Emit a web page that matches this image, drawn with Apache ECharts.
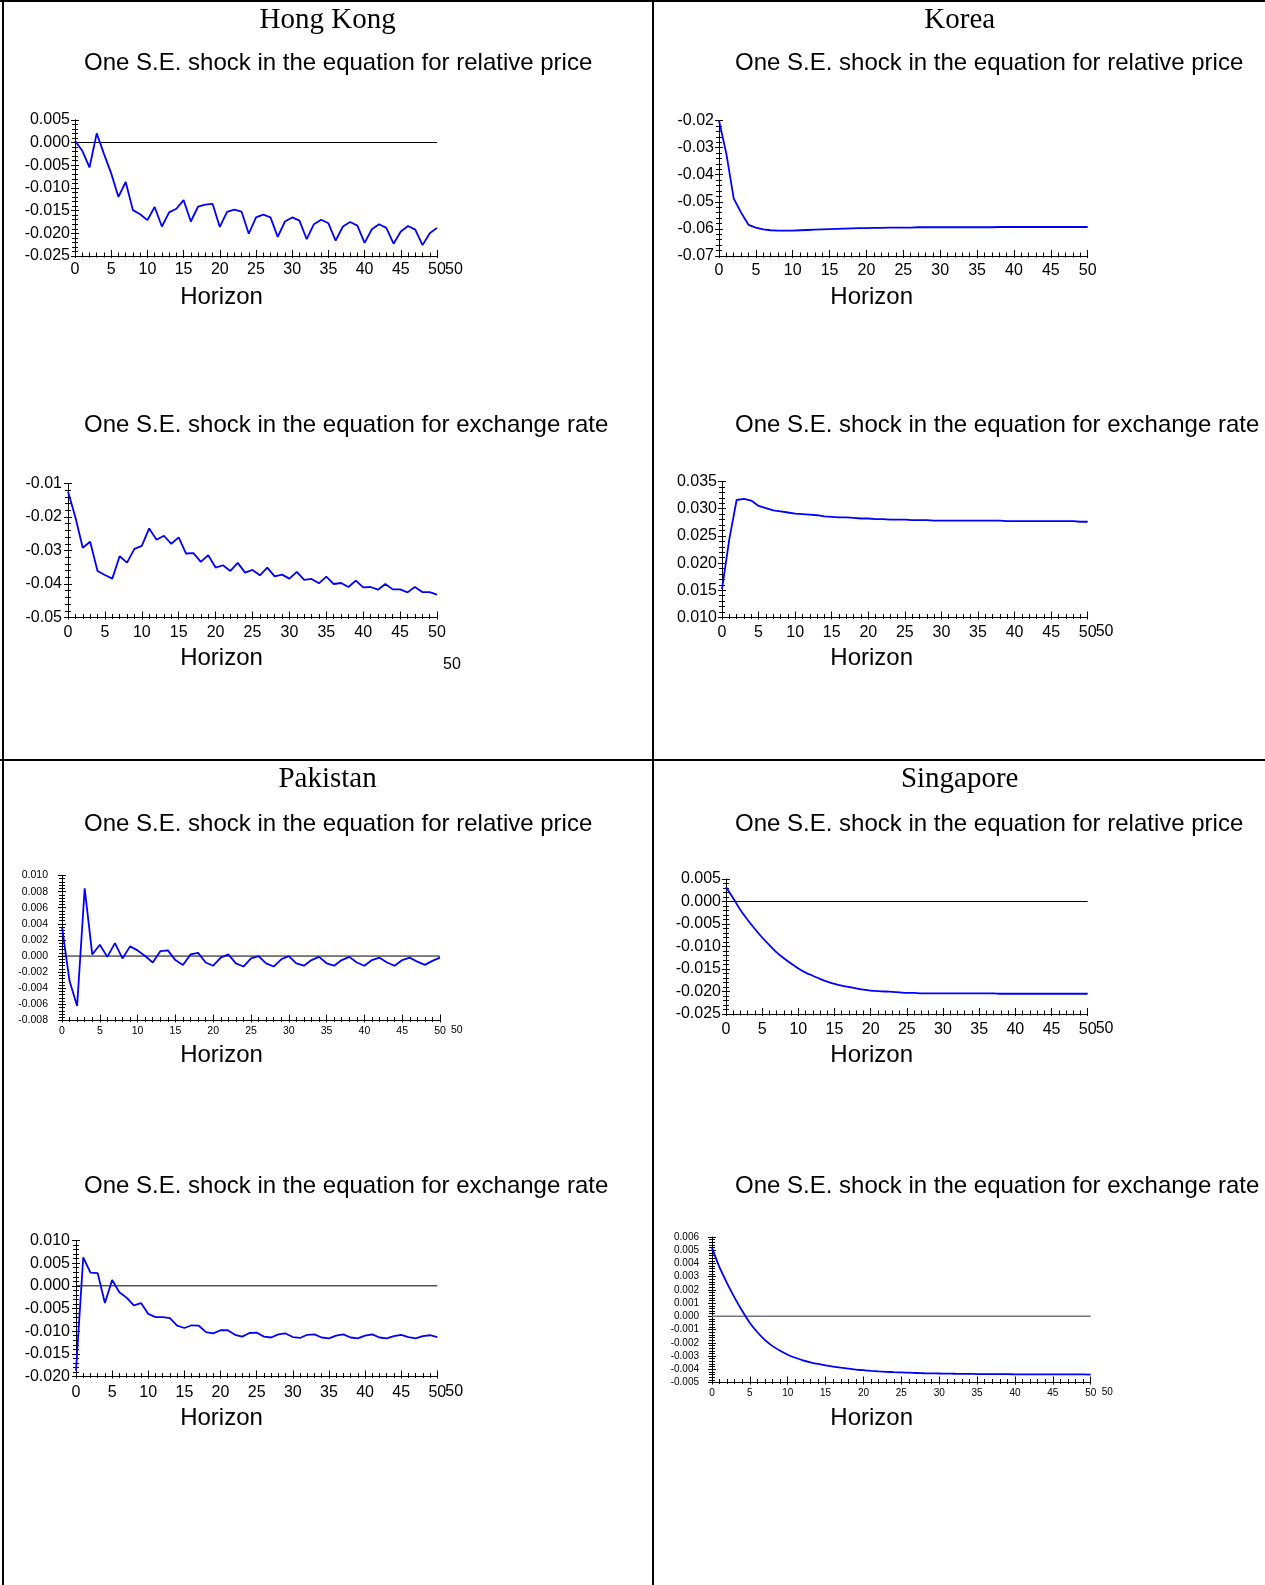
<!DOCTYPE html>
<html>
<head>
<meta charset="utf-8">
<script src="https://cdn.jsdelivr.net/npm/echarts@6/dist/echarts.min.js"></script>
<style>
html,body{margin:0;padding:0;background:#fff;}
#c{width:1265px;height:1585px;}
</style>
</head>
<body>
<div id="c"></div>
<script>
// ---------- DATA ----------
const horizon = [0,1,2,3,4,5,6,7,8,9,10,11,12,13,14,15,16,17,18,19,20,21,22,23,24,25,26,27,28,29,30,31,32,33,34,35,36,37,38,39,40,41,42,43,44,45,46,47,48,49,50];

const countries = ['Hong Kong', 'Korea', 'Pakistan', 'Singapore'];
const priceTitle = 'One S.E. shock in the equation for relative price';
const exchangeTitle = 'One S.E. shock in the equation for exchange rate';
const axisTitle = 'Horizon';

const hkPrice = [0.0004,-0.0018,-0.0055,0.0020,-0.0025,-0.0068,-0.0120,-0.0087,-0.0149,-0.0158,-0.0171,-0.0142,-0.0185,-0.0154,-0.0146,-0.0127,-0.0174,-0.0141,-0.0137,-0.0135,-0.0186,-0.0153,-0.0148,-0.0152,-0.0201,-0.0165,-0.0159,-0.0165,-0.0208,-0.0174,-0.0165,-0.0172,-0.0213,-0.0180,-0.0170,-0.0178,-0.0216,-0.0185,-0.0175,-0.0183,-0.0221,-0.0191,-0.0180,-0.0188,-0.0223,-0.0196,-0.0184,-0.0192,-0.0226,-0.0200,-0.0188];
const hkExchange = [-0.0124,-0.0201,-0.0292,-0.0274,-0.0361,-0.0373,-0.0384,-0.0317,-0.0336,-0.0295,-0.0286,-0.0234,-0.0268,-0.0256,-0.0280,-0.0261,-0.0309,-0.0308,-0.0334,-0.0314,-0.0351,-0.0344,-0.0361,-0.0337,-0.0366,-0.0358,-0.0374,-0.0351,-0.0377,-0.0372,-0.0384,-0.0364,-0.0388,-0.0385,-0.0398,-0.0378,-0.0400,-0.0397,-0.0409,-0.0390,-0.0410,-0.0409,-0.0417,-0.0400,-0.0416,-0.0416,-0.0425,-0.0409,-0.0424,-0.0424,-0.0432];
const krPrice = [-0.0200,-0.0323,-0.0488,-0.0540,-0.0585,-0.0595,-0.0602,-0.0605,-0.0606,-0.0606,-0.0606,-0.0605,-0.0604,-0.0603,-0.0602,-0.0601,-0.0600,-0.0599,-0.0598,-0.0597,-0.0597,-0.0596,-0.0596,-0.0595,-0.0595,-0.0595,-0.0595,-0.0594,-0.0594,-0.0594,-0.0594,-0.0594,-0.0594,-0.0594,-0.0594,-0.0594,-0.0594,-0.0594,-0.0593,-0.0593,-0.0593,-0.0593,-0.0593,-0.0593,-0.0593,-0.0593,-0.0593,-0.0593,-0.0593,-0.0593,-0.0593];
const krExchange = [0.0152,0.0244,0.0316,0.0318,0.0315,0.0305,0.0301,0.0297,0.0295,0.0293,0.0291,0.0290,0.0289,0.0288,0.0286,0.0285,0.0284,0.0284,0.0283,0.0282,0.0282,0.0281,0.0281,0.0280,0.0280,0.0280,0.0279,0.0279,0.0279,0.0278,0.0278,0.0278,0.0278,0.0278,0.0278,0.0278,0.0278,0.0278,0.0278,0.0277,0.0277,0.0277,0.0277,0.0277,0.0277,0.0277,0.0277,0.0277,0.0277,0.0276,0.0276];
const pkPrice = [0.0036,-0.0031,-0.0062,0.0084,0.0002,0.0014,-0.0001,0.0016,-0.0003,0.0012,0.0007,0.0000,-0.0008,0.0006,0.0007,-0.0005,-0.0011,0.0002,0.0004,-0.0008,-0.0012,-0.0002,0.0002,-0.0009,-0.0013,-0.0003,0.0000,-0.0009,-0.0013,-0.0004,0.0000,-0.0009,-0.0012,-0.0005,-0.0001,-0.0009,-0.0012,-0.0005,-0.0001,-0.0008,-0.0012,-0.0005,-0.0002,-0.0008,-0.0012,-0.0005,-0.0002,-0.0007,-0.0011,-0.0006,-0.0002];
const pkExchange = [-0.0187,0.0063,0.0029,0.0028,-0.0038,0.0013,-0.0014,-0.0026,-0.0043,-0.0038,-0.0062,-0.0069,-0.0069,-0.0071,-0.0088,-0.0093,-0.0087,-0.0088,-0.0102,-0.0105,-0.0098,-0.0098,-0.0108,-0.0112,-0.0104,-0.0103,-0.0112,-0.0114,-0.0107,-0.0105,-0.0113,-0.0115,-0.0108,-0.0107,-0.0114,-0.0116,-0.0110,-0.0107,-0.0114,-0.0116,-0.0110,-0.0107,-0.0114,-0.0116,-0.0111,-0.0108,-0.0113,-0.0116,-0.0111,-0.0109,-0.0113];
const sgPrice = [0.0032,0.0007,-0.0019,-0.0041,-0.0061,-0.0080,-0.0097,-0.0113,-0.0126,-0.0138,-0.0149,-0.0158,-0.0165,-0.0172,-0.0178,-0.0183,-0.0187,-0.0190,-0.0193,-0.0196,-0.0198,-0.0199,-0.0200,-0.0201,-0.0202,-0.0203,-0.0203,-0.0204,-0.0204,-0.0204,-0.0204,-0.0204,-0.0204,-0.0204,-0.0204,-0.0204,-0.0204,-0.0204,-0.0205,-0.0205,-0.0205,-0.0205,-0.0205,-0.0205,-0.0205,-0.0205,-0.0205,-0.0205,-0.0205,-0.0205,-0.0205];
const sgExchange = [0.00520,0.00370,0.00250,0.00140,0.00040,-0.00050,-0.00120,-0.00180,-0.00225,-0.00260,-0.00290,-0.00313,-0.00332,-0.00347,-0.00360,-0.00371,-0.00380,-0.00388,-0.00395,-0.00402,-0.00407,-0.00412,-0.00416,-0.00419,-0.00422,-0.00424,-0.00426,-0.00428,-0.00430,-0.00431,-0.00432,-0.00433,-0.00434,-0.00435,-0.00435,-0.00436,-0.00436,-0.00437,-0.00437,-0.00437,-0.00438,-0.00438,-0.00438,-0.00438,-0.00439,-0.00439,-0.00439,-0.00439,-0.00439,-0.00439,-0.00440];

// y-axis ranges per panel
const yMin = [-0.025, -0.05, -0.07, 0.010, -0.008, -0.020, -0.025, -0.005];
const yMax = [0.005, -0.01, -0.02, 0.035, 0.010, 0.010, 0.005, 0.006];
const yStep = [0.005, 0.01, 0.01, 0.005, 0.002, 0.005, 0.005, 0.001];
const yDecimals = [3, 2, 2, 3, 3, 3, 3, 3];
const xEndName = ['50', '', '', '50', '50', '50', '50', '50'];

// ---------- LAYOUT ----------
const SANS = "'Liberation Sans', Arial, sans-serif";
const SERIF = "'Liberation Serif', 'Times New Roman', serif";
const panels = [
  {data: hkPrice,    x0: 75,  x1: 437,  y0: 119.8, y1: 256,   fs: 16,   ym: 5,  xm: 6, zero: '#000', nameGap: 8,  namePad: 6, smooth: false},
  {data: hkExchange, x0: 68,  x1: 437,  y0: 483.5, y1: 617.5, fs: 16,   ym: 6,  xm: 7, zero: null,   nameGap: 8,  namePad: 6, smooth: false},
  {data: krPrice,    x0: 719, x1: 1087.7, y0: 120.5, y1: 256, fs: 16,   ym: 5,  xm: 7, zero: null,   nameGap: 8,  namePad: 6, smooth: false},
  {data: krExchange, x0: 722, x1: 1087.7, y0: 481.5, y1: 617.5, fs: 16, ym: 5,  xm: 7, zero: null,   nameGap: 8,  namePad: 6, smooth: false},
  {data: pkPrice,    x0: 62,  x1: 440,  y0: 875.5, y1: 1020.5, fs: 10.5, ym: 14, xm: 5, zero: '#000', nameGap: 11, namePad: 4, smooth: false},
  {data: pkExchange, x0: 76,  x1: 437.3, y0: 1240.5, y1: 1376.5, fs: 16, ym: 6,  xm: 8, zero: '#000', nameGap: 8,  namePad: 7, smooth: false},
  {data: sgPrice,    x0: 726, x1: 1087.7, y0: 879, y1: 1014,  fs: 16,   ym: 5,  xm: 8, zero: '#000', nameGap: 8,  namePad: 7, smooth: 0.3},
  {data: sgExchange, x0: 712, x1: 1090.7, y0: 1237, y1: 1382.5, fs: 10, ym: 13, xm: 6, zero: '#777', nameGap: 11, namePad: 5, smooth: 0.3}
];

const grid = [], xAxis = [], yAxis = [], series = [];
panels.forEach((p, i) => {
  grid.push({left: p.x0, top: p.y0, width: p.x1 - p.x0, height: p.y1 - p.y0, containLabel: false});
  const fmt = v => (Math.abs(v) < 1e-10 ? 0 : v).toFixed(yDecimals[i]);
  // main x axis (labels, line, upward ticks)
  xAxis.push({
    type: 'value', gridIndex: i, min: 0, max: 50, interval: 5, position: 'bottom',
    axisLine: {show: true, onZero: false, lineStyle: {color: '#000', width: 1}},
    axisTick: {show: true, inside: true, length: 6, lineStyle: {color: '#000', width: 1}},
    minorTick: {show: true, splitNumber: 5, length: 3.5, lineStyle: {color: '#000', width: 1}},
    splitLine: {show: false}, minorSplitLine: {show: false},
    axisLabel: {show: true, color: '#000', fontSize: p.fs, fontFamily: SANS, margin: p.xm, showMinLabel: true, showMaxLabel: true, hideOverlap: false},
    name: xEndName[i], nameLocation: 'end', nameGap: p.nameGap, nameMoveOverlap: false,
    nameTextStyle: {color: '#000', fontSize: p.fs, fontFamily: SANS, verticalAlign: 'top', align: 'left', padding: [p.namePad, 0, 0, 0]}
  });
  // overlay x axis (downward ticks only)
  xAxis.push({
    type: 'value', gridIndex: i, min: 0, max: 50, interval: 5, position: 'bottom',
    axisLine: {show: false, onZero: false},
    axisTick: {show: true, inside: false, length: 2, lineStyle: {color: '#000', width: 1}},
    minorTick: {show: true, splitNumber: 5, length: 1.5, lineStyle: {color: '#000', width: 1}},
    splitLine: {show: false}, axisLabel: {show: false}
  });
  // main y axis
  yAxis.push({
    type: 'value', gridIndex: i, min: yMin[i], max: yMax[i], interval: yStep[i], position: 'left',
    axisLine: {show: true, onZero: false, lineStyle: {color: '#000', width: 1}},
    axisTick: {show: true, inside: false, length: 4, lineStyle: {color: '#000', width: 1}},
    minorTick: {show: true, splitNumber: 5, length: 3, lineStyle: {color: '#000', width: 1}},
    splitLine: {show: false}, minorSplitLine: {show: false},
    axisLabel: {show: true, color: '#000', fontSize: p.fs, fontFamily: SANS, margin: p.ym, formatter: fmt, showMinLabel: true, showMaxLabel: true, hideOverlap: false}
  });
  // overlay y axis (inner ticks)
  yAxis.push({
    type: 'value', gridIndex: i, min: yMin[i], max: yMax[i], interval: yStep[i], position: 'left',
    axisLine: {show: false, onZero: false},
    axisTick: {show: true, inside: true, length: 4, lineStyle: {color: '#000', width: 1}},
    minorTick: {show: true, splitNumber: 5, length: 3, lineStyle: {color: '#000', width: 1}},
    splitLine: {show: false}, axisLabel: {show: false}
  });
  if (p.zero) {
    series.push({
      type: 'line', xAxisIndex: 2 * i, yAxisIndex: 2 * i, z: 1,
      data: [[horizon[0], 0], [horizon[horizon.length - 1], 0]],
      symbol: 'none', silent: true,
      lineStyle: {color: p.zero, width: p.zero === '#000' ? 1 : 1.5}
    });
  }
  series.push({
    type: 'line', xAxisIndex: 2 * i, yAxisIndex: 2 * i, z: 3,
    data: horizon.map((h, k) => [h, p.data[k]]),
    symbol: 'none', silent: true, smooth: p.smooth,
    lineStyle: {color: '#0000ff', width: 1.8}
  });
});

// ---------- TEXT & FRAME ----------
const g = [];
function txt(text, x, y, font, align) {
  g.push({type: 'text', x: x, y: y, silent: true,
    style: {text: text, font: font, fill: '#000', textAlign: align || 'center', textVerticalAlign: 'middle', align: align || 'center', verticalAlign: 'middle'}});
}
function ln(x1, y1, x2, y2) {
  g.push({type: 'line', silent: true, shape: {x1, y1, x2, y2}, style: {stroke: '#000', lineWidth: 2}});
}
ln(0, 1, 1265, 1); ln(3, 0, 3, 1585); ln(653, 0, 653, 1585); ln(0, 760, 1265, 760);

const colX = [327.6, 959.7];
const subX = [84, 735];
const rowTitleY = [20.2, 779.6];
const subY = [[63.7, 425.7], [824.1, 1186.1]];
const horY = [[297.3, 658.3], [1055.7, 1418.7]];
const horX = [221.5, 871.7];
countries.forEach((c, k) => {
  const col = k % 2, row = Math.floor(k / 2);
  txt(c, colX[col], rowTitleY[row], '29px ' + SERIF);
  txt(priceTitle, subX[col], subY[row][0], '24px ' + SANS, 'left');
  txt(exchangeTitle, subX[col], subY[row][1], '24px ' + SANS, 'left');
  txt(axisTitle, horX[col], horY[row][0], '24px ' + SANS);
  txt(axisTitle, horX[col], horY[row][1], '24px ' + SANS);
});
txt('50', 452, 665, '16px ' + SANS);

const chart = echarts.init(document.getElementById('c'), null, {renderer: 'canvas'});
chart.setOption({
  backgroundColor: '#fff',
  animation: false,
  grid: grid, xAxis: xAxis, yAxis: yAxis, series: series,
  graphic: {elements: g}
});
</script>
</body>
</html>
